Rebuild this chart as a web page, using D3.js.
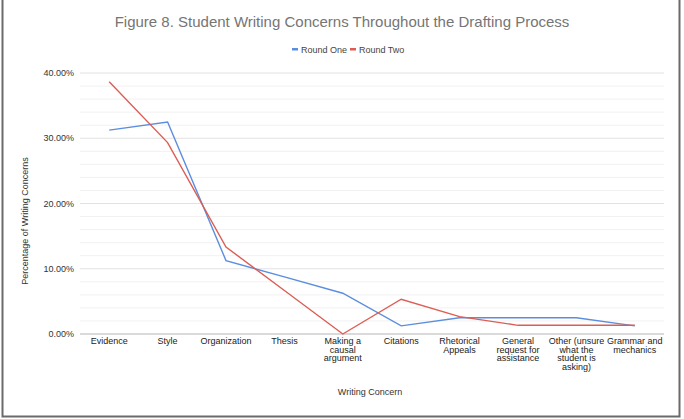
<!DOCTYPE html>
<html>
<head>
<meta charset="utf-8">
<script src="https://cdn.jsdelivr.net/npm/d3@7"></script>
<style>
  body { margin:0; background:#fff; }
  text { font-family: "Liberation Sans", Arial, sans-serif; }
</style>
</head>
<body>
<svg id="chart" width="684" height="419"></svg>
<script>
const categories = ["Evidence", "Style", "Organization", "Thesis", "Making a causal argument",
  "Citations", "Rhetorical Appeals", "General request for assistance",
  "Other (unsure what the student is asking)", "Grammar and mechanics"];
const roundOne = [31.25, 32.5, 11.25, 8.75, 6.25, 1.25, 2.5, 2.5, 2.5, 1.25];
const roundTwo = [38.67, 29.33, 13.33, 6.67, 0, 5.33, 2.67, 1.33, 1.33, 1.33];
const yTicks = [0, 10, 20, 30, 40];
const seriesNames = ["Round One", "Round Two"];
const colors = ["#5b8ede", "#dc5d54"];

const svg = d3.select("#chart");

// frame
svg.append("path")
  .attr("d", `M2.5,0 V416.5 H679.5 V0`)
  .attr("fill", "none")
  .attr("stroke", "#6a6a6a")
  .attr("stroke-width", 2);

const x = d3.scaleBand()
  .domain(categories)
  .range([80, 664]);

const y = d3.scaleLinear()
  .domain([0, 40])
  .range([334, 73]);

// minor gridlines
svg.append("g").selectAll("line")
  .data(d3.range(0, 41, 2).filter(v => v % 10 !== 0))
  .enter().append("line")
  .attr("x1", 80).attr("x2", 664)
  .attr("y1", d => y(d)).attr("y2", d => y(d))
  .attr("stroke", "#f1f1f1");

// major gridlines
svg.append("g").selectAll("line")
  .data(yTicks.slice(1))
  .enter().append("line")
  .attr("x1", 80).attr("x2", 664)
  .attr("y1", d => y(d)).attr("y2", d => y(d))
  .attr("stroke", "#e2e2e2");

// y labels
svg.append("g").selectAll("text")
  .data(yTicks)
  .enter().append("text")
  .attr("x", 74)
  .attr("y", d => y(d) + 3)
  .attr("text-anchor", "end")
  .attr("font-size", 9)
  .attr("fill", "#333")
  .text(d => d.toFixed(2) + "%");

// baseline
svg.append("line")
  .attr("x1", 80).attr("x2", 664)
  .attr("y1", y(0)).attr("y2", y(0))
  .attr("stroke", "#b5b5b5")
  .attr("stroke-width", 1.2);

// x labels, wrapped
function wrap(label, maxW) {
  const words = label.split(" ");
  const lines = [];
  let cur = "";
  const ctx = document.createElement("canvas").getContext("2d");
  ctx.font = "9px 'Liberation Sans'";
  words.forEach(w => {
    const t = cur ? cur + " " + w : w;
    if (ctx.measureText(t).width > maxW && cur) { lines.push(cur); cur = w; }
    else cur = t;
  });
  lines.push(cur);
  return lines;
}

const xl = svg.append("g").selectAll("text")
  .data(categories)
  .enter().append("text")
  .attr("text-anchor", "middle")
  .attr("font-size", 9)
  .attr("fill", "#222");
xl.each(function(d) {
  const lines = wrap(d, 56);
  d3.select(this).selectAll("tspan")
    .data(lines)
    .enter().append("tspan")
    .attr("x", x(d) + x.bandwidth() / 2)
    .attr("y", (l, i) => 344 + i * 8.6)
    .text(l => l);
});

// lines
const line = d3.line()
  .x((d, i) => x(categories[i]) + x.bandwidth() / 2)
  .y(d => y(d));

[roundOne, roundTwo].forEach((s, i) => {
  svg.append("path")
    .datum(s)
    .attr("fill", "none")
    .attr("stroke", colors[i])
    .attr("stroke-width", 1.4)
    .attr("d", line);
});

// title
svg.append("text")
  .attr("x", 342).attr("y", 27)
  .attr("text-anchor", "middle")
  .attr("font-size", 15)
  .attr("fill", "#757575")
  .text("Figure 8. Student Writing Concerns Throughout the Drafting Process");

// legend
const legendX = [292, 350];
seriesNames.forEach((n, i) => {
  svg.append("rect")
    .attr("x", legendX[i]).attr("y", 48)
    .attr("width", 6).attr("height", 2.5)
    .attr("fill", colors[i]);
  svg.append("text")
    .attr("x", legendX[i] + 9).attr("y", 52.5)
    .attr("font-size", 9)
    .attr("fill", "#444")
    .text(n);
});

// axis titles
svg.append("text")
  .attr("x", 370).attr("y", 395)
  .attr("text-anchor", "middle")
  .attr("font-size", 9)
  .attr("fill", "#333")
  .text("Writing Concern");

svg.append("text")
  .attr("transform", "translate(28,221) rotate(-90)")
  .attr("text-anchor", "middle")
  .attr("font-size", 9)
  .attr("fill", "#333")
  .text("Percentage of Writing Concerns");
</script>
</body>
</html>
